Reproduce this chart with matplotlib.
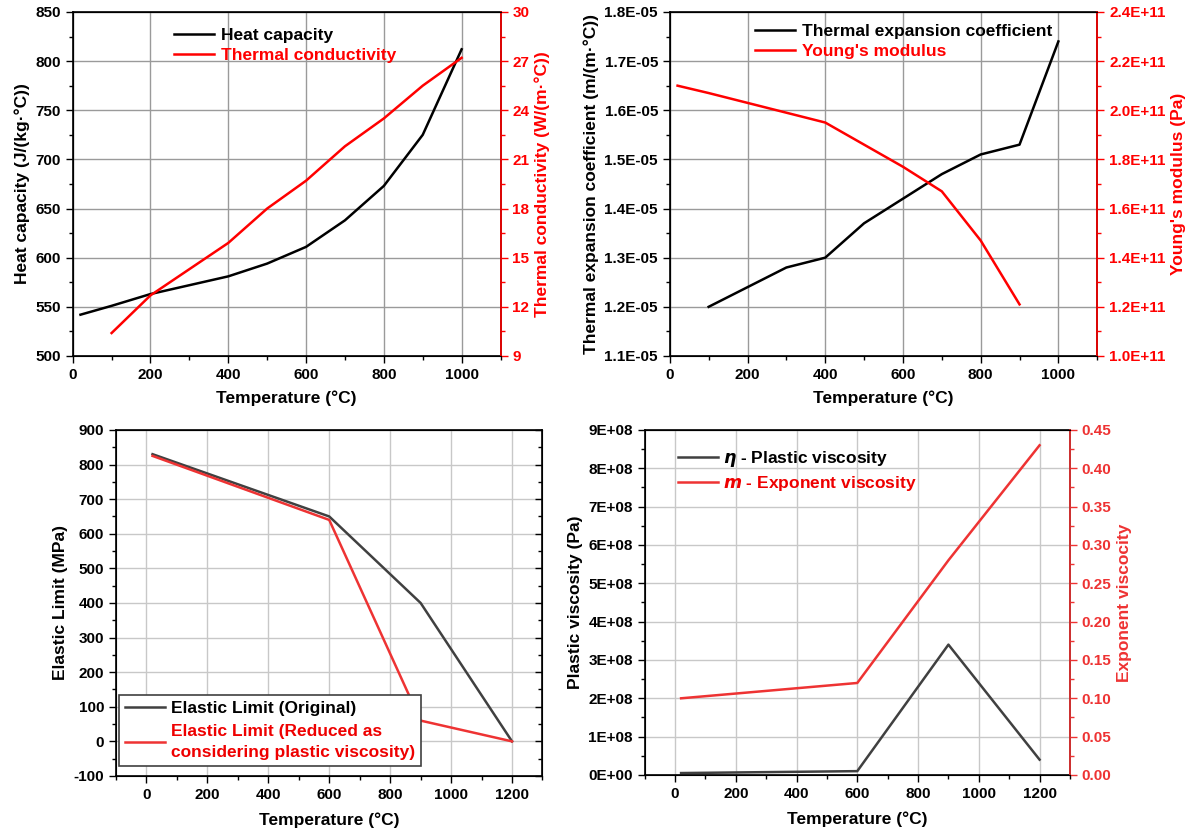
import numpy as np
import matplotlib.pyplot as plt
from matplotlib.ticker import MultipleLocator, FuncFormatter

plt.rcParams['font.family'] = ['Liberation Sans', 'DejaVu Sans']
plt.rcParams['font.weight'] = 'bold'
plt.rcParams['axes.labelweight'] = 'bold'
plt.rcParams['axes.unicode_minus'] = False

# Heat capacity / thermal conductivity
t_hc = [20, 100, 200, 300, 400, 500, 600, 700, 800, 900, 1000]
heat_cap = [542, 551, 563, 572, 581, 594, 611, 638, 673, 725, 812]
t_tc = [100, 200, 300, 400, 500, 600, 700, 800, 900, 1000]
therm_cond = [10.4, 12.7, 14.3, 15.9, 18.0, 19.7, 21.8, 23.5, 25.5, 27.2]

# Thermal expansion / Young's modulus
t_te = [100, 200, 300, 400, 500, 600, 700, 800, 900, 1000]
therm_exp = [1.20e-5, 1.24e-5, 1.28e-5, 1.30e-5, 1.37e-5, 1.42e-5, 1.47e-5, 1.51e-5, 1.53e-5, 1.74e-5]
t_ym = [20, 100, 200, 300, 400, 500, 600, 700, 800, 900]
youngs = [2.10e11, 2.07e11, 2.03e11, 1.99e11, 1.95e11, 1.86e11, 1.77e11, 1.67e11, 1.47e11, 1.21e11]

# Elastic limit
t_el = [20, 600, 900, 1200]
el_orig = [830, 650, 400, 0]
el_red = [825, 640, 60, 0]

# Viscosity
t_v = [20, 600, 900, 1200]
plast_visc = [5e6, 1e7, 3.4e8, 4e7]
exp_visc = [0.10, 0.12, 0.28, 0.43]

RED = '#ff0000'
LRED = '#ee3333'
DGRAY = '#404040'
FS = 12.5
TFS = 11

fig = plt.figure(figsize=(11.92, 8.36), dpi=100)


def style(ax, grid_color):
    ax.grid(True, color=grid_color, linewidth=1.0)
    ax.set_axisbelow(True)
    ax.tick_params(which='both', direction='out', labelsize=TFS, width=1)
    ax.tick_params(which='major', length=5)
    ax.tick_params(which='minor', length=3)
    for s in ax.spines.values():
        s.set_linewidth(1.2)


def red_axis(ax2, color):
    ax2.spines['right'].set_color(color)
    ax2.spines['right'].set_linewidth(1.2)
    ax2.tick_params(axis='y', which='both', colors=color, direction='out', labelsize=TFS, width=1)
    ax2.tick_params(which='major', length=5)
    ax2.tick_params(which='minor', length=3)
    ax2.yaxis.label.set_color(color)


# ---- top left
ax1 = fig.add_axes([0.0610, 0.5742, 0.3589, 0.4115])
style(ax1, '#9a9a9a')
ax1.plot(t_hc, heat_cap, color='black', lw=1.8, label='Heat capacity')
ax1.set_xlim(0, 1100)
ax1.set_ylim(500, 850)
ax1.xaxis.set_major_locator(MultipleLocator(200))
ax1.xaxis.set_minor_locator(MultipleLocator(100))
ax1.yaxis.set_major_locator(MultipleLocator(50))
ax1.yaxis.set_minor_locator(MultipleLocator(25))
ax1.set_xlabel('Temperature (°C)', fontsize=FS, labelpad=6)
ax1.set_ylabel('Heat capacity (J/(kg·°C))', fontsize=FS)
ax1b = ax1.twinx()
ax1b.plot(t_tc, therm_cond, color=RED, lw=1.8, label='Thermal conductivity')
ax1b.set_ylim(9, 30)
ax1b.yaxis.set_major_locator(MultipleLocator(3))
ax1b.yaxis.set_minor_locator(MultipleLocator(1.5))
ax1b.set_ylabel('Thermal conductivity (W/(m·°C))', fontsize=FS)
red_axis(ax1b, RED)
h = ax1.get_lines() + ax1b.get_lines()
leg = ax1.legend(h, [l.get_label() for l in h], loc='upper left', bbox_to_anchor=(0.20, 1.0),
                 frameon=False, fontsize=FS, handlelength=2.3, handletextpad=0.4,
                 labelspacing=0.3)
leg.get_texts()[1].set_color(RED)

# ---- top right
ax2 = fig.add_axes([0.5619, 0.5742, 0.3586, 0.4115])
style(ax2, '#9a9a9a')
ax2.plot(t_te, therm_exp, color='black', lw=1.8, label='Thermal expansion coefficient')
ax2.set_xlim(0, 1100)
ax2.set_ylim(1.1e-5, 1.8e-5)
ax2.xaxis.set_major_locator(MultipleLocator(200))
ax2.xaxis.set_minor_locator(MultipleLocator(100))
ax2.yaxis.set_major_locator(MultipleLocator(1e-6))
ax2.yaxis.set_minor_locator(MultipleLocator(5e-7))
ax2.yaxis.set_major_formatter(FuncFormatter(lambda v, p: '%.1E' % v))
ax2.set_xlabel('Temperature (°C)', fontsize=FS, labelpad=6)
ax2.set_ylabel('Thermal expansion coefficient (m/(m·°C))', fontsize=FS)
ax2b = ax2.twinx()
ax2b.plot(t_ym, youngs, color=RED, lw=1.8, label="Young's modulus")
ax2b.set_ylim(1.0e11, 2.4e11)
ax2b.yaxis.set_major_locator(MultipleLocator(2e10))
ax2b.yaxis.set_minor_locator(MultipleLocator(1e10))
ax2b.yaxis.set_major_formatter(FuncFormatter(lambda v, p: '%.1E' % v))
ax2b.set_ylabel("Young's modulus (Pa)", fontsize=FS)
red_axis(ax2b, RED)
h = ax2.get_lines() + ax2b.get_lines()
leg = ax2.legend(h, [l.get_label() for l in h], loc='upper left', bbox_to_anchor=(0.162, 1.012),
                 frameon=False, fontsize=FS, handlelength=2.3, handletextpad=0.4,
                 labelspacing=0.3)
leg.get_texts()[1].set_color(RED)

# ---- bottom left
ax3 = fig.add_axes([0.0973, 0.0718, 0.3578, 0.4139])
style(ax3, '#c8c8c8')
ax3.plot(t_el, el_orig, color=DGRAY, lw=1.8, label='Elastic Limit (Original)')
ax3.plot(t_el, el_red, color=LRED, lw=1.8,
         label='Elastic Limit (Reduced as\nconsidering plastic viscosity)')
ax3.set_xlim(-100, 1300)
ax3.set_ylim(-100, 900)
ax3.xaxis.set_major_locator(MultipleLocator(200))
ax3.xaxis.set_minor_locator(MultipleLocator(100))
ax3.yaxis.set_major_locator(MultipleLocator(100))
ax3.yaxis.set_minor_locator(MultipleLocator(50))
ax3.set_xlabel('Temperature (°C)', fontsize=FS, labelpad=8)
ax3.set_ylabel('Elastic Limit (MPa)', fontsize=FS)
ax3r = ax3.twinx()
ax3r.set_ylim(-100, 900)
ax3r.yaxis.set_major_locator(MultipleLocator(100))
ax3r.yaxis.set_minor_locator(MultipleLocator(50))
ax3r.tick_params(which='both', direction='in', labelright=False, width=1)
ax3r.tick_params(which='major', length=5)
ax3r.tick_params(which='minor', length=3)
leg = ax3.legend(loc='lower left', bbox_to_anchor=(0.008, 0.03), fontsize=FS,
                 fancybox=False, framealpha=1, edgecolor=DGRAY, handlelength=2.3,
                 handletextpad=0.3, labelspacing=0.45, borderpad=0.35, borderaxespad=0)
leg.get_frame().set_linewidth(1.2)
for t in leg.get_texts():
    t.set_linespacing(1.45)
leg.get_texts()[1].set_color('#ee0000')

# ---- bottom right
ax4 = fig.add_axes([0.5408, 0.0730, 0.3568, 0.4127])
style(ax4, '#c8c8c8')
ax4.plot(t_v, plast_visc, color=DGRAY, lw=1.8, label=r'$\eta$ - Plastic viscosity')
ax4.set_xlim(-100, 1300)
ax4.set_ylim(0, 9e8)
ax4.xaxis.set_major_locator(MultipleLocator(200))
ax4.xaxis.set_minor_locator(MultipleLocator(100))
ax4.yaxis.set_major_locator(MultipleLocator(1e8))
ax4.yaxis.set_minor_locator(MultipleLocator(5e7))
ax4.yaxis.set_major_formatter(FuncFormatter(lambda v, p: '%.0E' % v))
ax4.set_xlabel('Temperature (°C)', fontsize=FS, labelpad=8)
ax4.set_ylabel('Plastic viscosity (Pa)', fontsize=FS)
ax4b = ax4.twinx()
ax4b.plot(t_v, exp_visc, color=LRED, lw=1.8, label=r'$m$ - Exponent viscosity')
ax4b.set_ylim(0, 0.45)
ax4b.yaxis.set_major_locator(MultipleLocator(0.05))
ax4b.yaxis.set_minor_locator(MultipleLocator(0.025))
ax4b.yaxis.set_major_formatter(FuncFormatter(lambda v, p: '%.2f' % v))
ax4b.set_ylabel('Exponent viscocity', fontsize=FS)
red_axis(ax4b, LRED)
h = ax4.get_lines() + ax4b.get_lines()
leg = ax4.legend(h, [l.get_label() for l in h], loc='upper left', bbox_to_anchor=(0.042, 0.99),
                 frameon=False, fontsize=FS, handlelength=2.3, handletextpad=0.3,
                 labelspacing=0.3)
leg.get_texts()[1].set_color('#ee0000')

fig.savefig('out.png', dpi=100)
